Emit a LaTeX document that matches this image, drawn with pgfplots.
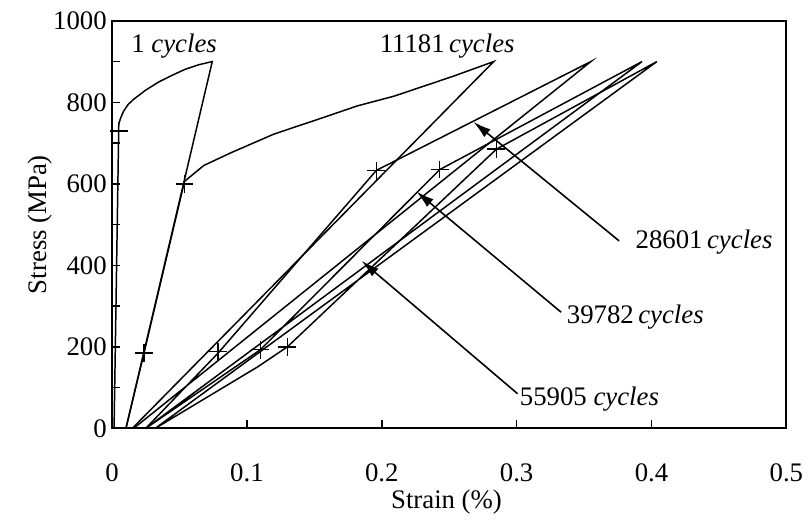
\documentclass[border=0pt]{standalone}
\usepackage{pgfplots}
\pgfplotsset{compat=1.18}
\usepackage{fontspec}
\setmainfont{Liberation Serif}
\usetikzlibrary{arrows.meta}
\begin{document}
\fontsize{13.5}{16}\selectfont
\begin{tikzpicture}
\begin{axis}[
  width=340pt, height=205.5pt, scale only axis,
  xmin=0, xmax=0.5, ymin=0, ymax=1000,
  xtick={0,0.1,0.2,0.3,0.4,0.5},
  xticklabels={0,0.1,0.2,0.3,0.4,0.5},
  ytick={0,200,400,600,800,1000},
  minor ytick={100,300,500,700,900},
  tick pos=left, tick align=inside,
  major tick length=4pt, minor tick length=4pt,
  axis line style={line width=1pt},
  every tick/.style={black, line width=0.8pt},
  /pgf/number format/assume math mode=true,
  /pgf/number format/1000 sep={},
  xticklabel style={yshift=-13pt},
  yticklabel style={xshift=2pt},
  xlabel={Strain (\%)}, ylabel={Stress (MPa)},
  every axis x label/.style={at={([yshift=-37pt]axis description cs:0.496,0)}, anchor=center},
  every axis y label/.style={at={([xshift=-36.5pt]axis description cs:0,0.5)}, rotate=90, anchor=center},
  clip=false,
]
% 1 cycle
\addplot[black, mark=none, line width=0.75pt] coordinates {(0.0015,0) (0.005,747) (0.0062,760) (0.0085,778) (0.012,795) (0.0162,808) (0.025,830) (0.0346,850) (0.045,867) (0.0542,881) (0.064,892) (0.0743,900) (0.0103,0)};
% 11181 cycles
\addplot[black, mark=none, line width=0.75pt] coordinates {(0.0103,0) (0.0237,185) (0.0537,606) (0.068,645) (0.088,676) (0.12,722) (0.1596,766) (0.1816,791) (0.209,815) (0.253,864) (0.283,900) (0.015,0)};
% 28601 cycles
\addplot[black, mark=none, line width=0.75pt] coordinates {(0.025,0) (0.0787,185) (0.196,633) (0.355,900) (0.016,0)};
% 39782 cycles
\addplot[black, mark=none, line width=0.75pt] coordinates {(0.025,0) (0.11,193) (0.243,635) (0.393,900) (0.025,0)};
% 55905 cycles
\addplot[black, mark=none, line width=0.75pt] coordinates {(0.032,0) (0.108,151) (0.13,200) (0.285,685) (0.404,900) (0.032,0)};
% markers
\addplot[black, only marks, mark=+, mark size=4.5pt, line width=0.7pt] coordinates {
 (0.005,730) (0.0537,600) (0.0237,185) (0.0787,188) (0.11,193) (0.13,200) (0.196,632) (0.243,635) (0.285,685)};
% labels
\node at (axis cs:0.046,939) {1 \textit{cycles}};
\node at (axis cs:0.2485,939) {11181\,\textit{cycles}};
\node at (axis cs:0.439,457) {28601\,\textit{cycles}};
\node at (axis cs:0.388,272) {39782\,\textit{cycles}};
\node at (axis cs:0.354,73) {55905 \textit{cycles}};
% arrows
\draw[-{Latex[length=9pt,width=5pt]}, line width=0.8pt] (axis cs:0.376,460) -- (axis cs:0.268,752);
\draw[-{Latex[length=9pt,width=5pt]}, line width=0.8pt] (axis cs:0.333,285) -- (axis cs:0.2257,581);
\draw[-{Latex[length=9pt,width=5pt]}, line width=0.8pt] (axis cs:0.3007,85) -- (axis cs:0.185,411);
% bounding box to match reference proportions
\path ([xshift=-56.5pt,yshift=-45.5pt]rel axis cs:0,0) rectangle ([xshift=9.5pt,yshift=10.5pt]rel axis cs:1,1);
\end{axis}
\end{tikzpicture}
\end{document}
